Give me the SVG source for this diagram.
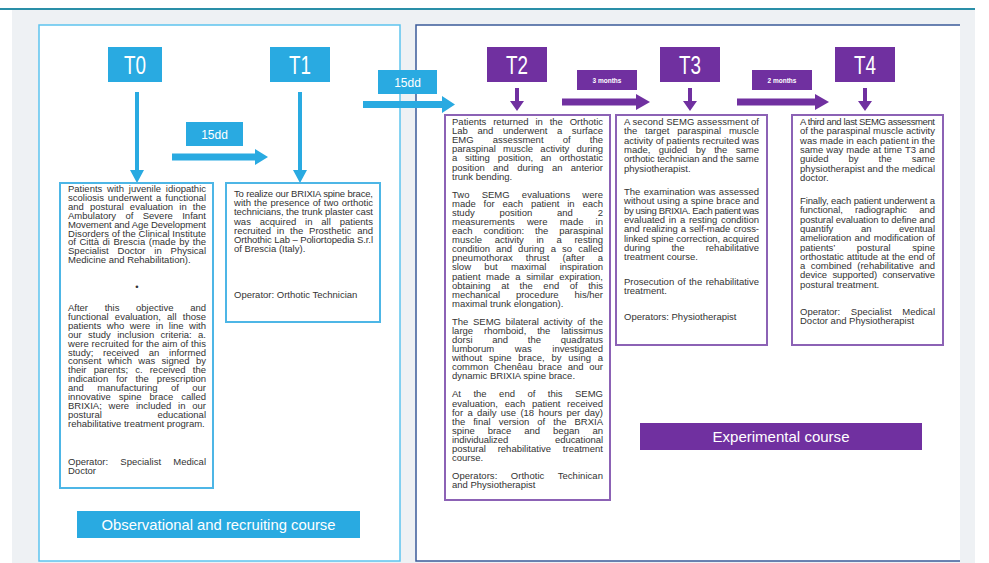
<svg xmlns="http://www.w3.org/2000/svg" width="989" height="563" viewBox="0 0 989 563">
<style>
.bg{fill:#eef1f4}
.t{font-family:"Liberation Sans",Arial,sans-serif;font-size:9.5px;fill:#333}
.ti{font-family:"Liberation Sans",Arial,sans-serif;font-size:26px;fill:#fff;text-anchor:middle}
.sm{font-family:"Liberation Sans",Arial,sans-serif;font-size:12px;fill:#fff;text-anchor:middle}
.mo{font-family:"Liberation Sans",Arial,sans-serif;font-size:6.5px;font-weight:bold;fill:#fff;text-anchor:middle}
.lb{font-family:"Liberation Sans",Arial,sans-serif;font-size:15px;fill:#fff;text-anchor:middle}
.blue{fill:#29aae1}
.purp{fill:#7030a0}
.bbox{fill:#fff;stroke:#4db6e6;stroke-width:2}
.pbox{fill:#fff;stroke:#8c62b5;stroke-width:2}
</style>
<rect x="0" y="0" width="989" height="563" fill="#fff"/>
<rect class="bg" x="12" y="10" width="963" height="553"/>
<rect x="0" y="8" width="975" height="2" fill="#2a8fa8"/>
<rect x="39" y="25" width="361" height="536" fill="#fff" stroke="#5ec4ee" stroke-width="1.5"/>
<path d="M960 25 H416 V561 H960" fill="#fff" stroke="#3b5b99" stroke-width="1.5"/>

<g id="T0"><rect class="blue" x="108" y="47" width="54" height="35"/><text class="ti" x="135" y="74" textLength="22" lengthAdjust="spacingAndGlyphs">T0</text></g>
<g id="T1"><rect class="blue" x="270" y="47" width="60" height="35"/><text class="ti" x="300" y="74" textLength="22" lengthAdjust="spacingAndGlyphs">T1</text></g>
<g id="T2"><rect class="purp" x="487" y="47" width="60" height="35"/><text class="ti" x="517" y="74" textLength="22" lengthAdjust="spacingAndGlyphs">T2</text></g>
<g id="T3"><rect class="purp" x="660" y="47" width="60" height="35"/><text class="ti" x="690" y="74" textLength="22" lengthAdjust="spacingAndGlyphs">T3</text></g>
<g id="T4"><rect class="purp" x="835" y="47" width="60" height="35"/><text class="ti" x="865" y="74" textLength="22" lengthAdjust="spacingAndGlyphs">T4</text></g>

<g id="connectors">
<path class="blue" d="M135 92H139V170H144L137 183L130 170H135Z"/>
<path class="blue" d="M298 92H302V170H307L300 183L293 170H298Z"/>
<path class="blue" d="M172 153.5H255V149L268 157L255 165V160.5H172Z"/>
<path class="blue" d="M363 101H442V96L455 104.5L442 113V108H363Z"/>
<path class="purp" d="M515 88H519V101H524L517 111L510 101H515Z"/>
<path class="purp" d="M688 88H692V101H697L690 111L683 101H688Z"/>
<path class="purp" d="M863 88H867V101H872L865 111L858 101H863Z"/>
<path class="purp" d="M562 98.5H636V94L650 102L636 110V105.5H562Z"/>
<path class="purp" d="M737 98.5H815V94L829 102L815 110V105.5H737Z"/>
</g>

<g id="d15a"><rect class="blue" x="186" y="122" width="57" height="24"/><text class="sm" x="214.5" y="138.5">15dd</text></g>
<g id="d15b"><rect class="blue" x="378" y="70" width="59" height="24"/><text class="sm" x="407.5" y="86.5">15dd</text></g>
<g id="m3"><rect class="purp" x="577" y="70" width="60" height="20"/><text class="mo" x="607" y="82.5">3 months</text></g>
<g id="m2"><rect class="purp" x="752" y="70" width="60" height="20"/><text class="mo" x="782" y="82.5">2 months</text></g>

<g id="boxT0">
<rect class="bbox" x="60" y="183" width="153" height="305"/>
<text class="t" x="68" y="192" style="word-spacing:2.2px" textLength="138" lengthAdjust="spacing">Patients with juvenile idiopathic</text>
<text class="t" x="68" y="200.9" style="word-spacing:1.3px" textLength="138" lengthAdjust="spacing">scoliosis underwent a functional</text>
<text class="t" x="68" y="209.8" style="word-spacing:3.5px" textLength="138" lengthAdjust="spacing">and postural evaluation in the</text>
<text class="t" x="68" y="218.7" style="word-spacing:6.7px" textLength="138" lengthAdjust="spacing">Ambulatory of Severe Infant</text>
<text class="t" x="68" y="227.6" textLength="138" lengthAdjust="spacing">Movement and Age Development</text>
<text class="t" x="68" y="236.5" textLength="138" lengthAdjust="spacing">Disorders of the Clinical Institute</text>
<text class="t" x="68" y="245.4" style="word-spacing:0.9px" textLength="138" lengthAdjust="spacing">of Città di Brescia (made by the</text>
<text class="t" x="68" y="254.3" style="word-spacing:6.2px" textLength="138" lengthAdjust="spacing">Specialist Doctor in Physical</text>
<text class="t" x="68" y="263.2">Medicine and Rehabilitation).</text>
<text class="t" x="137" y="290" text-anchor="middle">•</text>
<text class="t" x="68" y="311" style="word-spacing:14px" textLength="138" lengthAdjust="spacing">After this objective and</text>
<text class="t" x="68" y="319.9" style="word-spacing:3.6px" textLength="138" lengthAdjust="spacing">functional evaluation, all those</text>
<text class="t" x="68" y="328.8" style="word-spacing:2.9px" textLength="138" lengthAdjust="spacing">patients who were in line with</text>
<text class="t" x="68" y="337.7" style="word-spacing:3.7px" textLength="138" lengthAdjust="spacing">our study inclusion criteria: a.</text>
<text class="t" x="68" y="346.6" textLength="138" lengthAdjust="spacing">were recruited for the aim of this</text>
<text class="t" x="68" y="355.5" style="word-spacing:7.1px" textLength="138" lengthAdjust="spacing">study; received an informed</text>
<text class="t" x="68" y="364.4" style="word-spacing:3.7px" textLength="138" lengthAdjust="spacing">consent which was signed by</text>
<text class="t" x="68" y="373.3" style="word-spacing:4.5px" textLength="138" lengthAdjust="spacing">their parents; c. received the</text>
<text class="t" x="68" y="382.2" style="word-spacing:5.5px" textLength="138" lengthAdjust="spacing">indication for the prescription</text>
<text class="t" x="68" y="391.1" style="word-spacing:10.8px" textLength="138" lengthAdjust="spacing">and manufacturing of our</text>
<text class="t" x="68" y="400" style="word-spacing:5.3px" textLength="138" lengthAdjust="spacing">innovative spine brace called</text>
<text class="t" x="68" y="408.9" style="word-spacing:4.1px" textLength="138" lengthAdjust="spacing">BRIXIA; were included in our</text>
<text class="t" x="68" y="417.8" style="word-spacing:53px" textLength="138" lengthAdjust="spacing">postural educational</text>
<text class="t" x="68" y="426.7">rehabilitative treatment program.</text>
<text class="t" x="68" y="465" style="word-spacing:9.6px" textLength="138" lengthAdjust="spacing">Operator: Specialist Medical</text>
<text class="t" x="68" y="474">Doctor</text>
</g>

<g id="boxT1">
<rect class="bbox" x="226" y="183" width="154" height="139"/>
<text class="t" x="234" y="197" textLength="139" lengthAdjust="spacing">To realize our BRIXIA spine brace,</text>
<text class="t" x="234" y="206.2" style="word-spacing:0.5px" textLength="139" lengthAdjust="spacing">with the presence of two orthotic</text>
<text class="t" x="234" y="215.4" textLength="139" lengthAdjust="spacing">technicians, the trunk plaster cast</text>
<text class="t" x="234" y="224.6" style="word-spacing:6.2px" textLength="139" lengthAdjust="spacing">was acquired in all patients</text>
<text class="t" x="234" y="233.8" style="word-spacing:3.2px" textLength="139" lengthAdjust="spacing">recruited in the Prosthetic and</text>
<text class="t" x="234" y="243" textLength="139" lengthAdjust="spacing">Orthothic Lab – Poliortopedia S.r.l</text>
<text class="t" x="234" y="252.2">of Brescia (Italy).</text>
<text class="t" x="234" y="298">Operator: Orthotic Technician</text>
</g>

<g id="boxT2">
<rect class="pbox" x="445" y="115" width="165" height="385"/>
<text class="t" x="452" y="125" style="word-spacing:4.2px" textLength="151" lengthAdjust="spacing">Patients returned in the Orthotic</text>
<text class="t" x="452" y="134.1" style="word-spacing:7px" textLength="151" lengthAdjust="spacing">Lab and underwent a surface</text>
<text class="t" x="452" y="143.2" style="word-spacing:16.5px" textLength="151" lengthAdjust="spacing">EMG assessment of the</text>
<text class="t" x="452" y="152.3" style="word-spacing:4.6px" textLength="151" lengthAdjust="spacing">paraspinal muscle activity during</text>
<text class="t" x="452" y="161.4" style="word-spacing:5.1px" textLength="151" lengthAdjust="spacing">a sitting position, an orthostatic</text>
<text class="t" x="452" y="170.5" style="word-spacing:5.7px" textLength="151" lengthAdjust="spacing">position and during an anterior</text>
<text class="t" x="452" y="179.6">trunk bending.</text>
<text class="t" x="452" y="197.6" style="word-spacing:9.5px" textLength="151" lengthAdjust="spacing">Two SEMG evaluations were</text>
<text class="t" x="452" y="206.7" style="word-spacing:5.2px" textLength="151" lengthAdjust="spacing">made for each patient in each</text>
<text class="t" x="452" y="215.8" style="word-spacing:22.2px" textLength="151" lengthAdjust="spacing">study position and 2</text>
<text class="t" x="452" y="224.9" style="word-spacing:9.5px" textLength="151" lengthAdjust="spacing">measurements were made in</text>
<text class="t" x="452" y="234" style="word-spacing:8.3px" textLength="151" lengthAdjust="spacing">each condition: the paraspinal</text>
<text class="t" x="452" y="243.1" style="word-spacing:10px" textLength="151" lengthAdjust="spacing">muscle activity in a resting</text>
<text class="t" x="452" y="252.2" style="word-spacing:3.5px" textLength="151" lengthAdjust="spacing">condition and during a so called</text>
<text class="t" x="452" y="261.3" style="word-spacing:10.4px" textLength="151" lengthAdjust="spacing">pneumothorax thrust (after a</text>
<text class="t" x="452" y="270.4" style="word-spacing:10.7px" textLength="151" lengthAdjust="spacing">slow but maximal inspiration</text>
<text class="t" x="452" y="279.5" style="word-spacing:2.9px" textLength="151" lengthAdjust="spacing">patient made a similar expiration,</text>
<text class="t" x="452" y="288.6" style="word-spacing:7.9px" textLength="151" lengthAdjust="spacing">obtaining at the end of this</text>
<text class="t" x="452" y="297.7" style="word-spacing:13.2px" textLength="151" lengthAdjust="spacing">mechanical procedure his/her</text>
<text class="t" x="452" y="306.8">maximal trunk elongation).</text>
<text class="t" x="452" y="324.8" style="word-spacing:2px" textLength="151" lengthAdjust="spacing">The SEMG bilateral activity of the</text>
<text class="t" x="452" y="333.9" style="word-spacing:8.3px" textLength="151" lengthAdjust="spacing">large rhomboid, the latissimus</text>
<text class="t" x="452" y="343" style="word-spacing:17.1px" textLength="151" lengthAdjust="spacing">dorsi and the quadratus</text>
<text class="t" x="452" y="352.1" style="word-spacing:18px" textLength="151" lengthAdjust="spacing">lumborum was investigated</text>
<text class="t" x="452" y="361.2" style="word-spacing:4.1px" textLength="151" lengthAdjust="spacing">without spine brace, by using a</text>
<text class="t" x="452" y="370.3" style="word-spacing:3px" textLength="151" lengthAdjust="spacing">common Chenêau brace and our</text>
<text class="t" x="452" y="379.4">dynamic BRIXIA spine brace.</text>
<text class="t" x="452" y="397.4" style="word-spacing:9.8px" textLength="151" lengthAdjust="spacing">At the end of this SEMG</text>
<text class="t" x="452" y="406.5" style="word-spacing:4px" textLength="151" lengthAdjust="spacing">evaluation, each patient received</text>
<text class="t" x="452" y="415.6" style="word-spacing:1.7px" textLength="151" lengthAdjust="spacing">for a daily use (18 hours per day)</text>
<text class="t" x="452" y="424.7" style="word-spacing:5.4px" textLength="151" lengthAdjust="spacing">the final version of the BRXIA</text>
<text class="t" x="452" y="433.8" style="word-spacing:10.3px" textLength="151" lengthAdjust="spacing">spine brace and began an</text>
<text class="t" x="452" y="442.9" style="word-spacing:44.3px" textLength="151" lengthAdjust="spacing">individualized educational</text>
<text class="t" x="452" y="452" style="word-spacing:9.2px" textLength="151" lengthAdjust="spacing">postural rehabilitative treatment</text>
<text class="t" x="452" y="461.1">course.</text>
<text class="t" x="452" y="479.1" style="word-spacing:10.8px" textLength="151" lengthAdjust="spacing">Operators: Orthotic Techinican</text>
<text class="t" x="452" y="488.2">and Physiotherapist</text>
</g>

<g id="boxT3">
<rect class="pbox" x="616" y="115" width="151" height="230"/>
<text class="t" x="624" y="125" textLength="135" lengthAdjust="spacing">A second SEMG assessment of</text>
<text class="t" x="624" y="134.3" style="word-spacing:5.2px" textLength="135" lengthAdjust="spacing">the target paraspinal muscle</text>
<text class="t" x="624" y="143.6" textLength="135" lengthAdjust="spacing">activity of patients recruited was</text>
<text class="t" x="624" y="152.9" style="word-spacing:5.8px" textLength="135" lengthAdjust="spacing">made, guided by the same</text>
<text class="t" x="624" y="162.2" textLength="135" lengthAdjust="spacing">orthotic technician and the same</text>
<text class="t" x="624" y="171.5">physiotherapist.</text>
<text class="t" x="624" y="195" style="word-spacing:0.8px" textLength="135" lengthAdjust="spacing">The examination was assessed</text>
<text class="t" x="624" y="204.3" textLength="135" lengthAdjust="spacing">without using a spine brace and</text>
<text class="t" x="624" y="213.6" textLength="135" lengthAdjust="spacing">by using BRIXIA. Each patient was</text>
<text class="t" x="624" y="222.9" style="word-spacing:1.1px" textLength="135" lengthAdjust="spacing">evaluated in a resting condition</text>
<text class="t" x="624" y="232.2" style="word-spacing:0.6px" textLength="135" lengthAdjust="spacing">and realizing a self-made cross-</text>
<text class="t" x="624" y="241.5" textLength="135" lengthAdjust="spacing">linked spine correction, acquired</text>
<text class="t" x="624" y="250.8" style="word-spacing:18.4px" textLength="135" lengthAdjust="spacing">during the rehabilitative</text>
<text class="t" x="624" y="260.1">treatment course.</text>
<text class="t" x="624" y="285" style="word-spacing:0.8px" textLength="135" lengthAdjust="spacing">Prosecution of the rehabilitative</text>
<text class="t" x="624" y="294.3">treatment.</text>
<text class="t" x="624" y="320">Operators: Physiotherapist</text>
</g>

<g id="boxT4">
<rect class="pbox" x="792" y="115" width="151" height="230"/>
<text class="t" x="800" y="125" textLength="135" lengthAdjust="spacing">A third and last SEMG assessment</text>
<text class="t" x="800" y="134.3" textLength="135" lengthAdjust="spacing">of the paraspinal muscle activity</text>
<text class="t" x="800" y="143.6" textLength="135" lengthAdjust="spacing">was made in each patient in the</text>
<text class="t" x="800" y="152.9" style="word-spacing:0.4px" textLength="135" lengthAdjust="spacing">same way made at time T3 and</text>
<text class="t" x="800" y="162.2" style="word-spacing:17.4px" textLength="135" lengthAdjust="spacing">guided by the same</text>
<text class="t" x="800" y="171.5" textLength="135" lengthAdjust="spacing">physiotherapist and the medical</text>
<text class="t" x="800" y="180.8">doctor.</text>
<text class="t" x="800" y="204" textLength="135" lengthAdjust="spacing">Finally, each patient underwent a</text>
<text class="t" x="800" y="213.3" style="word-spacing:9.6px" textLength="135" lengthAdjust="spacing">functional, radiographic and</text>
<text class="t" x="800" y="222.6" textLength="135" lengthAdjust="spacing">postural evaluation to define and</text>
<text class="t" x="800" y="231.9" style="word-spacing:25px" textLength="135" lengthAdjust="spacing">quantify an eventual</text>
<text class="t" x="800" y="241.2" style="word-spacing:0.8px" textLength="135" lengthAdjust="spacing">amelioration and modification of</text>
<text class="t" x="800" y="250.5" style="word-spacing:19px" textLength="135" lengthAdjust="spacing">patients’ postural spine</text>
<text class="t" x="800" y="259.8" style="word-spacing:0.4px" textLength="135" lengthAdjust="spacing">orthostatic attitude at the end of</text>
<text class="t" x="800" y="269.1" style="word-spacing:2.8px" textLength="135" lengthAdjust="spacing">a combined (rehabilitative and</text>
<text class="t" x="800" y="278.4" style="word-spacing:2.8px" textLength="135" lengthAdjust="spacing">device supported) conservative</text>
<text class="t" x="800" y="287.7">postural treatment.</text>
<text class="t" x="800" y="315" style="word-spacing:8.1px" textLength="135" lengthAdjust="spacing">Operator: Specialist Medical</text>
<text class="t" x="800" y="324.3">Doctor and Physiotherapist</text>
</g>

<g id="labelObs"><rect class="blue" x="77" y="511" width="283" height="27"/><text class="lb" x="218.5" y="530" textLength="234" lengthAdjust="spacingAndGlyphs">Observational and recruiting course</text></g>
<g id="labelExp"><rect class="purp" x="640" y="423" width="282" height="27"/><text class="lb" x="781" y="442" textLength="137" lengthAdjust="spacingAndGlyphs">Experimental course</text></g>
</svg>
